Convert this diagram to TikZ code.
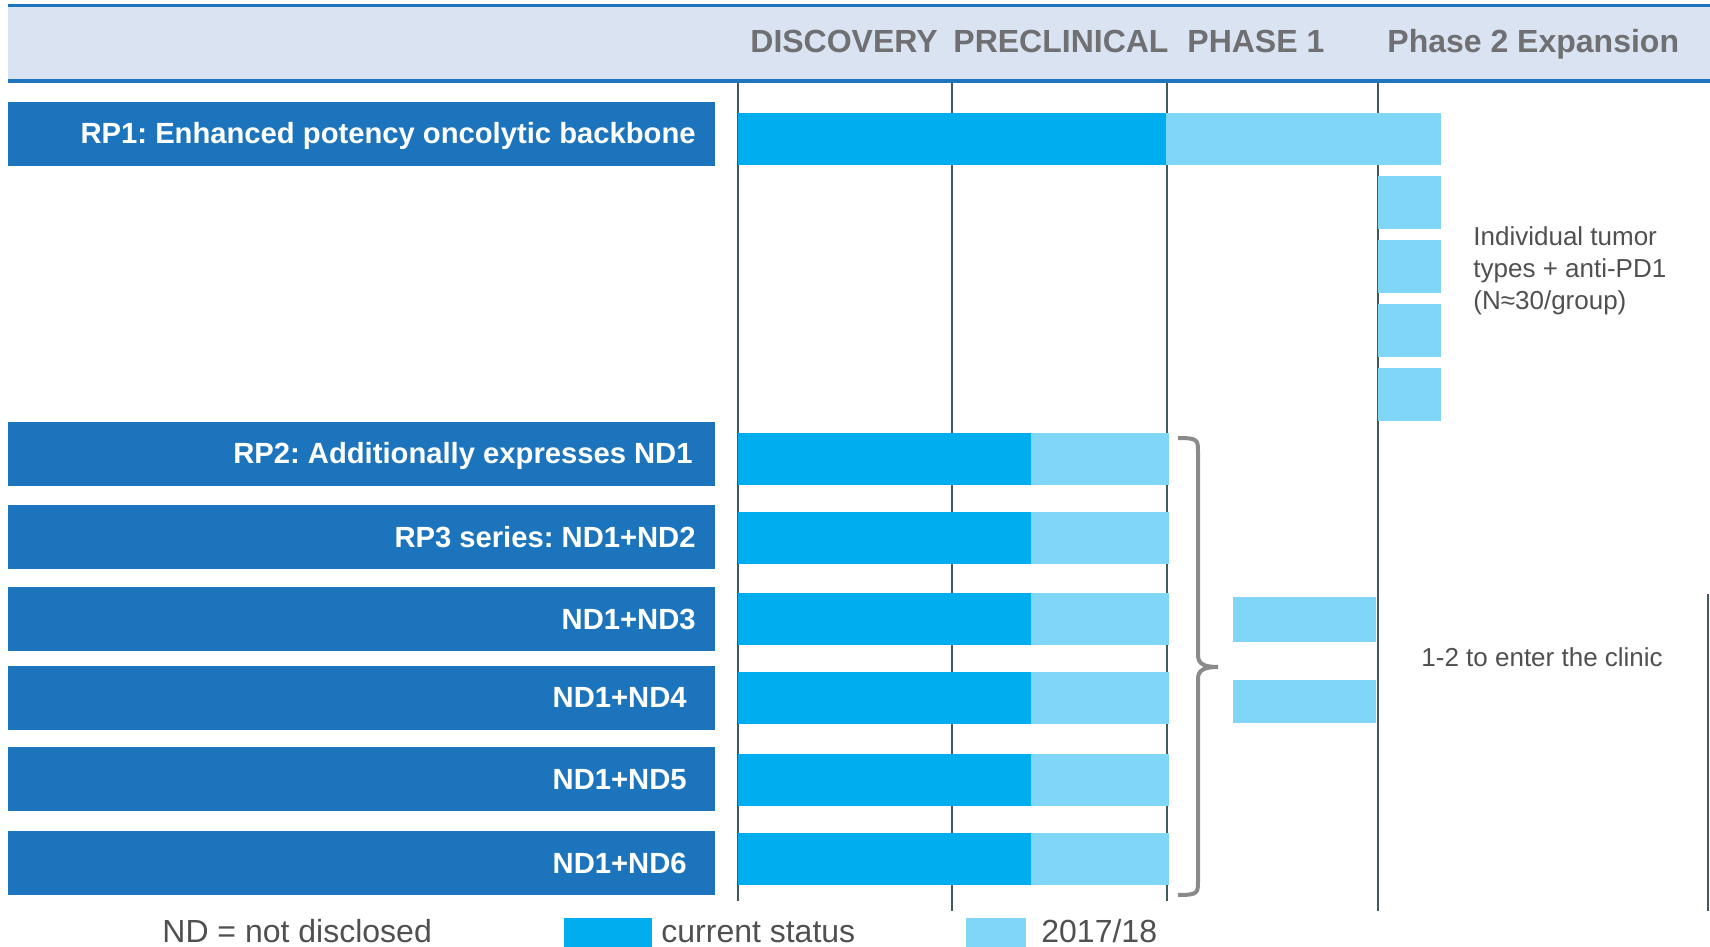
\documentclass[tikz,border=0pt]{standalone}
\usepackage{fontspec}
\setmainfont{Liberation Sans}
\usetikzlibrary{math}
\frenchspacing

\definecolor{hdrblue}{RGB}{30,117,189}
\definecolor{hdrfill}{RGB}{218,227,242}
\definecolor{lblblue}{RGB}{28,117,188}
\definecolor{curcol}{RGB}{0,174,239}
\definecolor{futcol}{RGB}{128,214,247}
\definecolor{gridcol}{RGB}{62,92,92}
\definecolor{hdrtext}{RGB}{112,112,114}
\definecolor{bodytext}{RGB}{80,80,82}
\definecolor{bracecol}{RGB}{138,138,138}

\tikzset{
    labelbar/.style = {fill = lblblue, minimum width = 353.5pt,
                       minimum height = 32pt, inner sep = 0pt},
    labeltext/.style = {anchor = base east, text = white, inner sep = 0pt,
                        font = \fontsize{14.6}{17}\selectfont\bfseries},
    phasetext/.style = {anchor = base west, text = hdrtext, inner sep = 0pt,
                        font = \fontsize{16}{19}\selectfont\bfseries},
    notetext/.style = {anchor = base west, text = bodytext, inner sep = 0pt,
                       align = left, font = \fontsize{13}{16}\selectfont},
    legtext/.style = {anchor = base west, text = bodytext, inner sep = 0pt,
                      font = \fontsize{16}{19}\selectfont},
    legbox/.style = {anchor = north west, inner sep = 0pt, minimum height = 14.5pt},
    phaseline/.style = {gridcol, line width = 1pt},
}

\begin{document}
\begin{tikzpicture}[x = 0.5pt, y = -0.5pt]
    \tikzmath{
        \xdisc = 738;
        \xpre = 952;
        \xphone = 1167;
        \xphtwo = 1378;
        \barhalf = 26;
    }
\useasboundingbox (0,0) rectangle (1710,947);

% cabecera
\fill[hdrfill] (8,7) rectangle (1710,79);
\draw[hdrblue, line width = 1.5pt] (8,5.5) -- (1710,5.5);
\draw[hdrblue, line width = 2pt] (8,81) -- (1710,81);

\node[phasetext] (hdisc) at (750,53) {DISCOVERY};
\node[phasetext] (hpre) at (953,53) {PRECLINICAL};
\node[phasetext] (hphone) at (1187,53) {PHASE 1};
\node[phasetext] (hphtwo) at (1387,53) {Phase 2 Expansion};

% lineas de fase
\draw[phaseline] (\xdisc,83) -- (\xdisc,901);
\draw[phaseline] (\xpre,83) -- (\xpre,911);
\draw[phaseline] (\xphone,83) -- (\xphone,901);
\draw[phaseline] (\xphtwo,83) -- (\xphtwo,911);
\draw[phaseline] (1708,594) -- (1708,911);

% filas: etiqueta y barras
\foreach \n/\yl/\yb/\xd/\xl/\xr/\txt in {
        1/134/139.5/1166/1441/696/{RP1: Enhanced potency oncolytic backbone},
        2/453.5/459/1031/1169/693/{RP2: Additionally expresses ND1},
        3/537/538/1031/1169/696/{RP3 series: ND1+ND2},
        4/619/619/1031/1169/696/{ND1+ND3},
        5/697.5/697.5/1031/1169/687/{ND1+ND4},
        6/779/779.5/1031/1169/687/{ND1+ND5},
        7/863/858.5/1031/1169/687/{ND1+ND6}} {
    \node[labelbar] (lbl\n) at (361.5,\yl) {};
    \node[labeltext] (txt\n) at (\xr,\yl+10) {\txt};
    \fill[futcol] (\xd,\yb-\barhalf) rectangle (\xl,\yb+\barhalf);
    \fill[curcol] (\xdisc,\yb-\barhalf) rectangle (\xd,\yb+\barhalf);
}

% fase 2: grupos por tumor
\foreach \i in {0,...,3} {
    \fill[futcol] (\xphtwo,176+64*\i) rectangle (1441,229+64*\i);
}
\node[notetext] (tumor) at (1473,309)
    {Individual tumor\\types + anti-PD1\\(N≈30/group)};

% fase 1: candidatos
\fill[futcol] (1233,597) rectangle (1376,642);
\fill[futcol] (1233,680) rectangle (1376,723);

% llave
\draw[bracecol, line width = 2pt]
    (1178,438) .. controls (1198,438) and (1198,440) .. (1198,452)
    -- (1198,655) .. controls (1198,664) and (1204,667) .. (1218,667)
    .. controls (1204,667) and (1198,670) .. (1198,679)
    -- (1198,881) .. controls (1198,893) and (1198,895) .. (1178,895);
\node[notetext] (clinic) at (1421,666) {1-2 to enter the clinic};

% leyenda
\node[legtext] (ndnote) at (162,942) {ND = not disclosed};
\node[legbox, fill = curcol, minimum width = 44pt] (legcur) at (564,918) {};
\node[legtext] (curtxt) at (661,942) {current status};
\node[legbox, fill = futcol, minimum width = 30pt] (legfut) at (966,918) {};
\node[legtext] (futtxt) at (1041,942) {2017/18};

\end{tikzpicture}
\end{document}
